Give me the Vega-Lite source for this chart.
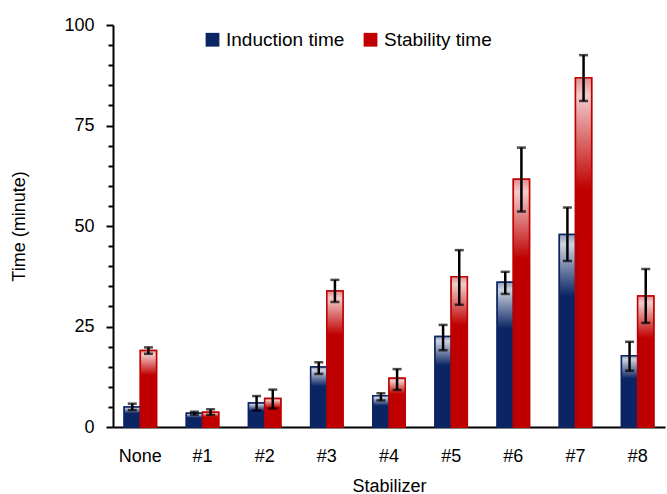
{
  "$schema": "https://vega.github.io/schema/vega-lite/v6.json",
  "autosize": "none",
  "width": 552,
  "height": 402,
  "padding": {"left": 113, "top": 25, "right": 2, "bottom": 67},
  "config": {
    "font": "Liberation Sans",
    "view": {"stroke": null},
    "axis": {"labelFontSize": 18, "titleFontSize": 18, "titleFontWeight": "normal", "labelColor": "#000", "titleColor": "#000", "domainColor": "#000", "domainWidth": 2, "tickColor": "#000", "tickWidth": 2, "grid": false},
    "legend": {"labelFontSize": 19, "labelColor": "#000"}
  },
  "data": {
    "values": [
      {"stabilizer": "None", "series": "Induction time", "value": 5.0, "lo": 4.2, "hi": 5.8},
      {"stabilizer": "None", "series": "Stability time", "value": 19.0, "lo": 18.2, "hi": 19.8},
      {"stabilizer": "#1", "series": "Induction time", "value": 3.4, "lo": 3.0, "hi": 3.8},
      {"stabilizer": "#1", "series": "Stability time", "value": 3.7, "lo": 3.0, "hi": 4.4},
      {"stabilizer": "#2", "series": "Induction time", "value": 6.0, "lo": 4.1, "hi": 7.7},
      {"stabilizer": "#2", "series": "Stability time", "value": 7.1, "lo": 4.6, "hi": 9.3},
      {"stabilizer": "#3", "series": "Induction time", "value": 14.9, "lo": 13.2, "hi": 16.1},
      {"stabilizer": "#3", "series": "Stability time", "value": 33.8, "lo": 31.1, "hi": 36.6},
      {"stabilizer": "#4", "series": "Induction time", "value": 7.8, "lo": 6.6, "hi": 8.4},
      {"stabilizer": "#4", "series": "Stability time", "value": 12.1, "lo": 9.2, "hi": 14.4},
      {"stabilizer": "#5", "series": "Induction time", "value": 22.5, "lo": 19.1, "hi": 25.4},
      {"stabilizer": "#5", "series": "Stability time", "value": 37.4, "lo": 30.4, "hi": 44.0},
      {"stabilizer": "#6", "series": "Induction time", "value": 36.0, "lo": 33.1, "hi": 38.6},
      {"stabilizer": "#6", "series": "Stability time", "value": 61.6, "lo": 53.6, "hi": 69.5},
      {"stabilizer": "#7", "series": "Induction time", "value": 47.9, "lo": 41.3, "hi": 54.6},
      {"stabilizer": "#7", "series": "Stability time", "value": 86.9, "lo": 81.1, "hi": 92.5},
      {"stabilizer": "#8", "series": "Induction time", "value": 17.7, "lo": 14.0, "hi": 21.2},
      {"stabilizer": "#8", "series": "Stability time", "value": 32.6, "lo": 25.9, "hi": 39.3}
    ]
  },
  "encoding": {
    "x": {
      "field": "stabilizer", "type": "nominal", "sort": null,
      "scale": {"paddingInner": 0.48, "paddingOuter": 0.18},
      "axis": {"title": "Stabilizer", "labelAngle": 0, "ticks": false, "labelPadding": 20, "titlePadding": 12}
    },
    "xOffset": {"field": "series", "type": "nominal", "sort": ["Induction time", "Stability time"], "scale": {"paddingInner": 0, "paddingOuter": 0}}
  },
  "layer": [
    {
      "mark": {"type": "bar", "strokeWidth": 1.5},
      "encoding": {
        "y": {
          "field": "value", "type": "quantitative",
          "scale": {"domain": [0, 100], "nice": false},
          "axis": {
            "title": "Time (minute)",
            "values": [0, 5, 10, 15, 20, 25, 30, 35, 40, 45, 50, 55, 60, 65, 70, 75, 80, 85, 90, 95, 100],
            "tickCount": 40,
            "labelOverlap": false,
            "labelExpr": "datum.value % 25 === 0 ? datum.label : ''",
            "tickSize": {"condition": {"test": "datum.value % 25 === 0", "value": 7}, "value": 5},
            "labelPadding": 12,
            "titlePadding": 35
          }
        },
        "fill": {
          "field": "series", "type": "nominal",
          "scale": {"domain": ["Induction time", "Stability time"], "range": ["#0b2463", "#c00000"]},
          "legend": {"title": null, "orient": "none", "direction": "horizontal", "legendX": 90, "legendY": 5, "symbolType": "square", "symbolSize": 190, "symbolStrokeWidth": 0, "columnPadding": 16, "labelOffset": 4}
        },
        "stroke": {
          "field": "series", "type": "nominal",
          "scale": {"domain": ["Induction time", "Stability time"], "range": ["#0b2463", "#c00000"]},
          "legend": null
        }
      }
    },
    {
      "mark": {
        "type": "bar",
        "strokeWidth": 1.5,
        "fill": {
          "gradient": "linear", "x1": 0, "y1": 0, "x2": 0, "y2": 1,
          "stops": [
            {"offset": 0, "color": "rgba(255,255,255,0.55)"},
            {"offset": 0.05, "color": "rgba(255,255,255,0.8)"},
            {"offset": 0.32, "color": "rgba(255,255,255,0)"},
            {"offset": 1, "color": "rgba(255,255,255,0)"}
          ]
        }
      },
      "encoding": {
        "y": {"field": "value", "type": "quantitative"},
        "stroke": {"field": "series", "type": "nominal", "legend": null}
      }
    },
    {
      "mark": {"type": "rule", "color": "#000", "strokeWidth": 2.5},
      "encoding": {
        "y": {"field": "lo", "type": "quantitative"},
        "y2": {"field": "hi"}
      }
    },
    {
      "mark": {"type": "tick", "color": "#000", "size": 9, "thickness": 2.5},
      "encoding": {"y": {"field": "hi", "type": "quantitative"}}
    },
    {
      "mark": {"type": "tick", "color": "#000", "size": 9, "thickness": 2.5},
      "encoding": {"y": {"field": "lo", "type": "quantitative"}}
    }
  ]
}
